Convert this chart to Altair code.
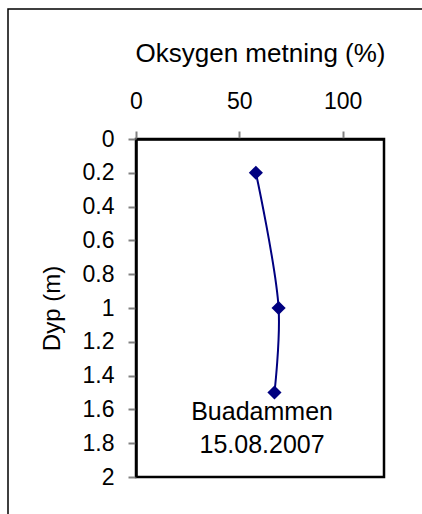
import altair as alt
import pandas as pd

# Oxygen saturation profile, Buadammen 15.08.2007
depth_m = [0.2, 1.0, 1.5]
oxygen_pct = [58, 69, 67]

station = "Buadammen"
date = "15.08.2007"

x_ticks = [0, 50, 100]
y_ticks = [0, 0.2, 0.4, 0.6, 0.8, 1, 1.2, 1.4, 1.6, 1.8, 2]

FONT = "Liberation Sans"
NAVY = "#000080"

df = pd.DataFrame({"Dyp": depth_m, "Oksygen": oxygen_pct})

x_enc = alt.X(
    "Oksygen:Q",
    scale=alt.Scale(domain=[0, 120], nice=False),
    axis=alt.Axis(orient="top", values=x_ticks, title="Oksygen metning (%)"),
)
y_enc = alt.Y(
    "Dyp:Q",
    scale=alt.Scale(domain=[0, 2], reverse=True, nice=False),
    axis=alt.Axis(values=y_ticks, format="~g", title="Dyp (m)"),
)

line = alt.Chart(df).mark_line(
    color=NAVY, strokeWidth=2, interpolate="catmull-rom"
).encode(x=x_enc, y=y_enc, order="Dyp:Q")

points = alt.Chart(df).mark_point(
    shape="diamond", filled=True, color=NAVY, size=200, opacity=1
).encode(x=x_enc, y=y_enc)

label_df = pd.DataFrame({"Oksygen": [61], "Dyp": [1.615], "txt": [[station, date]]})
label = alt.Chart(label_df).mark_text(
    font=FONT, fontSize=25, color="black", lineHeight=33, baseline="middle"
).encode(x=x_enc, y=y_enc, text="txt")

# outer chart frame
frame = alt.Chart(pd.DataFrame({"a": [0]})).mark_rect(
    fill=None, stroke="black", strokeWidth=1.5
).encode(
    x=alt.value(-128), x2=alt.value(320),
    y=alt.value(-130), y2=alt.value(400),
)

chart = alt.layer(frame, line, points, label).properties(
    width=248,
    height=338,
    autosize=alt.AutoSizeParams(type="none"),
    padding={"left": 136, "top": 139, "right": 38, "bottom": 37},
    background="white",
).configure_view(
    stroke="black", strokeWidth=2.5
).configure_axis(
    labelFont=FONT,
    titleFont=FONT,
    labelColor="black",
    titleColor="black",
    titleFontWeight="normal",
    domainColor="black",
    domainWidth=2.5,
    tickColor="#808080",
    tickWidth=2,
    tickSize=8,
    grid=False,
    labelOverlap=False,
    labelFlush=False,
).configure_axisX(
    titleFontSize=26,
    titleY=-86,
    titleBaseline="middle",
    labelFontSize=23,
    labelPadding=18,
).configure_axisY(
    titleFontSize=24,
    titleX=-84,
    titleY=169,
    titleBaseline="middle",
    labelFontSize=23,
    labelPadding=14,
)

chart.save("out.html", embed_options={"renderer": "svg", "actions": False})
